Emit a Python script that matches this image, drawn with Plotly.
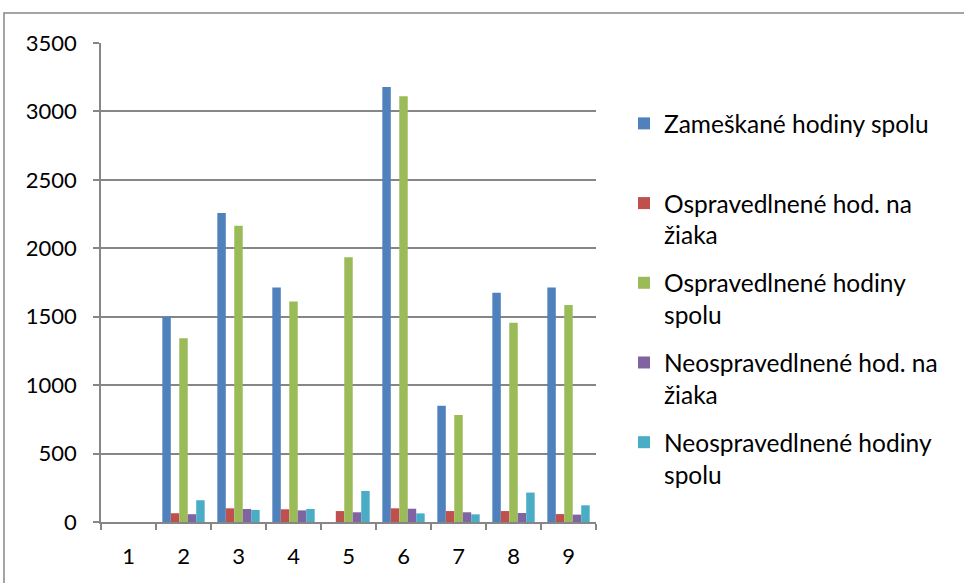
import plotly.graph_objects as go

categories = ["1", "2", "3", "4", "5", "6", "7", "8", "9"]

zameskane_spolu = [None, 1500, 2258, 1713, None, 3178, 849, 1676, 1713]
osprav_na_ziaka = [None, 64, 100, 93, 80, 100, 80, 80, 58]
osprav_spolu = [None, 1342, 2165, 1611, 1935, 3110, 782, 1456, 1586]
neosprav_na_ziaka = [None, 57, 95, 85, 71, 97, 71, 66, 54]
neosprav_spolu = [None, 159, 88, 95, 227, 63, 56, 215, 122]

series_names = [
    "Zameškané hodiny spolu<br> ",
    "Ospravedlnené hod. na<br>žiaka",
    "Ospravedlnené hodiny<br>spolu",
    "Neospravedlnené hod. na<br>žiaka",
    "Neospravedlnené hodiny<br>spolu",
]
series_values = [zameskane_spolu, osprav_na_ziaka, osprav_spolu, neosprav_na_ziaka, neosprav_spolu]
colors = ["#4F81BD", "#C0504D", "#9BBB59", "#8064A2", "#4BACC6"]

fig = go.Figure()
for i, (name, vals, col) in enumerate(zip(series_names, series_values, colors)):
    fig.add_trace(go.Bar(
        x=categories, y=vals, name=name, marker_color=col,
        marker_line_width=0, legendgroup=f"g{i}",
    ))

FONT = "Lato, 'Open Sans', sans-serif"
grid_col = "#868686"

fig.update_layout(
    width=964, height=583,
    margin=dict(l=101, r=368, t=43, b=61),
    paper_bgcolor="white", plot_bgcolor="white",
    barmode="group", bargap=0.23, bargroupgap=0,
    font=dict(family=FONT, size=22, color="black"),
    showlegend=True,
    legend=dict(
        x=1.0566, xanchor="left", y=0.879, yanchor="top",
        valign="top", traceorder="grouped", tracegroupgap=13,
        font=dict(family=FONT, size=24.5, color="black"),
        bgcolor="rgba(0,0,0,0)", itemclick=False,
    ),
    xaxis=dict(
        type="category", showgrid=False, showline=True, linecolor=grid_col,
        linewidth=1.5, ticks="outside", tickson="boundaries", ticklen=6,
        tickcolor=grid_col, tickwidth=1.5, ticklabelstandoff=14,
        tickfont=dict(family=FONT, size=22, color="black"),
    ),
    yaxis=dict(
        range=[0, 3500], dtick=500, tick0=0, showgrid=True, gridcolor=grid_col,
        gridwidth=1.5, showline=True, linecolor=grid_col, linewidth=1.5,
        ticks="outside", ticklen=6, tickcolor=grid_col, tickwidth=1.5,
        ticklabelstandoff=12, zeroline=False,
        tickfont=dict(family=FONT, size=22, color="black"),
    ),
    shapes=[dict(
        type="rect", xref="paper", yref="paper",
        x0=-0.196, x1=3.0, y0=-1.0, y1=1.0626,
        line=dict(color="#878787", width=1.5), fillcolor="rgba(0,0,0,0)",
        layer="below",
    )],
)

fig.write_html(
    "out.html",
    config={"displayModeBar": False},
    post_script="document.body.style.margin='0';document.body.style.padding='0';",
)
